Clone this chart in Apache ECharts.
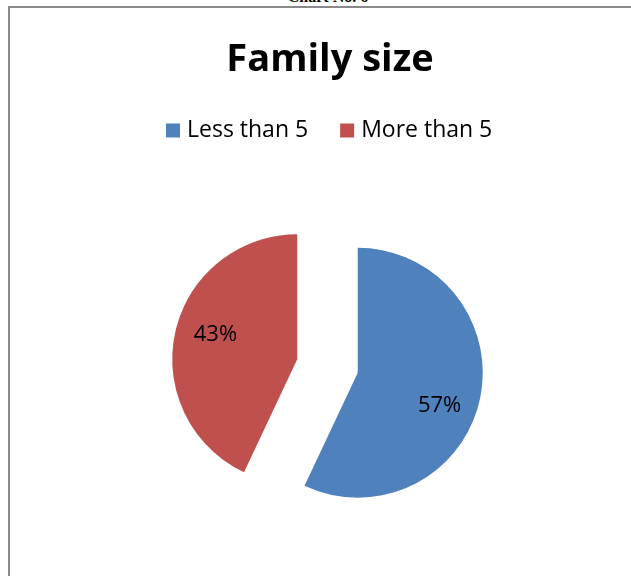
<!DOCTYPE html>
<html>
<head>
<meta charset="utf-8">
<style>
  html, body { margin: 0; padding: 0; background: #fff; overflow: hidden; }
  #frame {
    position: absolute; left: 8px; top: 6px; width: 700px; height: 600px;
    border-left: 2.5px solid #8a8a8a; border-top: 2px solid #8a8a8a;
  }
  #caption {
    position: absolute; left: 0; width: 656px; top: -12px; text-align: center;
    font-family: 'Liberation Serif', serif; font-weight: bold; font-size: 16px; line-height: 18px;
    color: #000;
  }
  #chart { position: absolute; left: 0; top: 0; width: 631px; height: 576px; }
</style>
<script src="https://cdn.jsdelivr.net/npm/echarts@6/dist/echarts.min.js"></script>
</head>
<body>
<div id="caption">Chart No. 6</div>
<div id="frame"></div>
<div id="chart"></div>
<script>
// Family size breakdown
const categories = ['Less than 5', 'More than 5'];
const shares = [57, 43];
const colors = ['#4F81BD', '#C0504D'];
const labelNudge = [[-5, 14], [5, -5]];

const chart = echarts.init(document.getElementById('chart'), null, { renderer: 'canvas' });

const pieCenter = [327.5, 366];
const pieRadius = 125;
const explode = 31;

const sliceData = categories.map((name, i) => ({
  name: name,
  value: shares[i],
  selected: true,
  itemStyle: { color: colors[i] }
}));

const labelData = categories.map((name, i) => ({
  name: name,
  value: shares[i],
  selected: true
}));

chart.setOption({
  animation: false,
  title: {
    text: 'Family size',
    left: 330,
    textAlign: 'center',
    top: 41,
    padding: 0,
    textStyle: { fontFamily: 'Open Sans', fontWeight: 'bold', fontSize: 38, color: '#000' }
  },
  legend: {
    data: categories,
    left: 166,
    top: 119,
    padding: 0,
    itemWidth: 14,
    itemHeight: 14,
    itemGap: 32,
    icon: 'rect',
    textStyle: { fontFamily: 'Open Sans', fontSize: 23, color: '#000', padding: [0, 0, 0, 2] },
    selectedMode: false
  },
  series: [
    {
      type: 'pie',
      center: pieCenter,
      radius: pieRadius,
      startAngle: 90,
      clockwise: true,
      selectedMode: 'multiple',
      selectedOffset: explode,
      silent: true,
      label: { show: false },
      labelLine: { show: false },
      emphasis: { disabled: true },
      data: sliceData
    },
    {
      type: 'pie',
      center: pieCenter,
      radius: 172,
      startAngle: 90,
      clockwise: true,
      selectedMode: 'multiple',
      selectedOffset: explode,
      silent: true,
      itemStyle: { color: 'rgba(0,0,0,0)' },
      label: {
        show: true,
        position: 'inside',
        formatter: '{c}%',
        fontFamily: 'Open Sans',
        fontSize: 22,
        color: '#000'
      },
      labelLayout: function (params) {
        const n = labelNudge[params.dataIndex];
        return { dx: n[0], dy: n[1] };
      },
      labelLine: { show: false },
      emphasis: { disabled: true },
      data: labelData
    }
  ]
});
</script>
</body>
</html>
